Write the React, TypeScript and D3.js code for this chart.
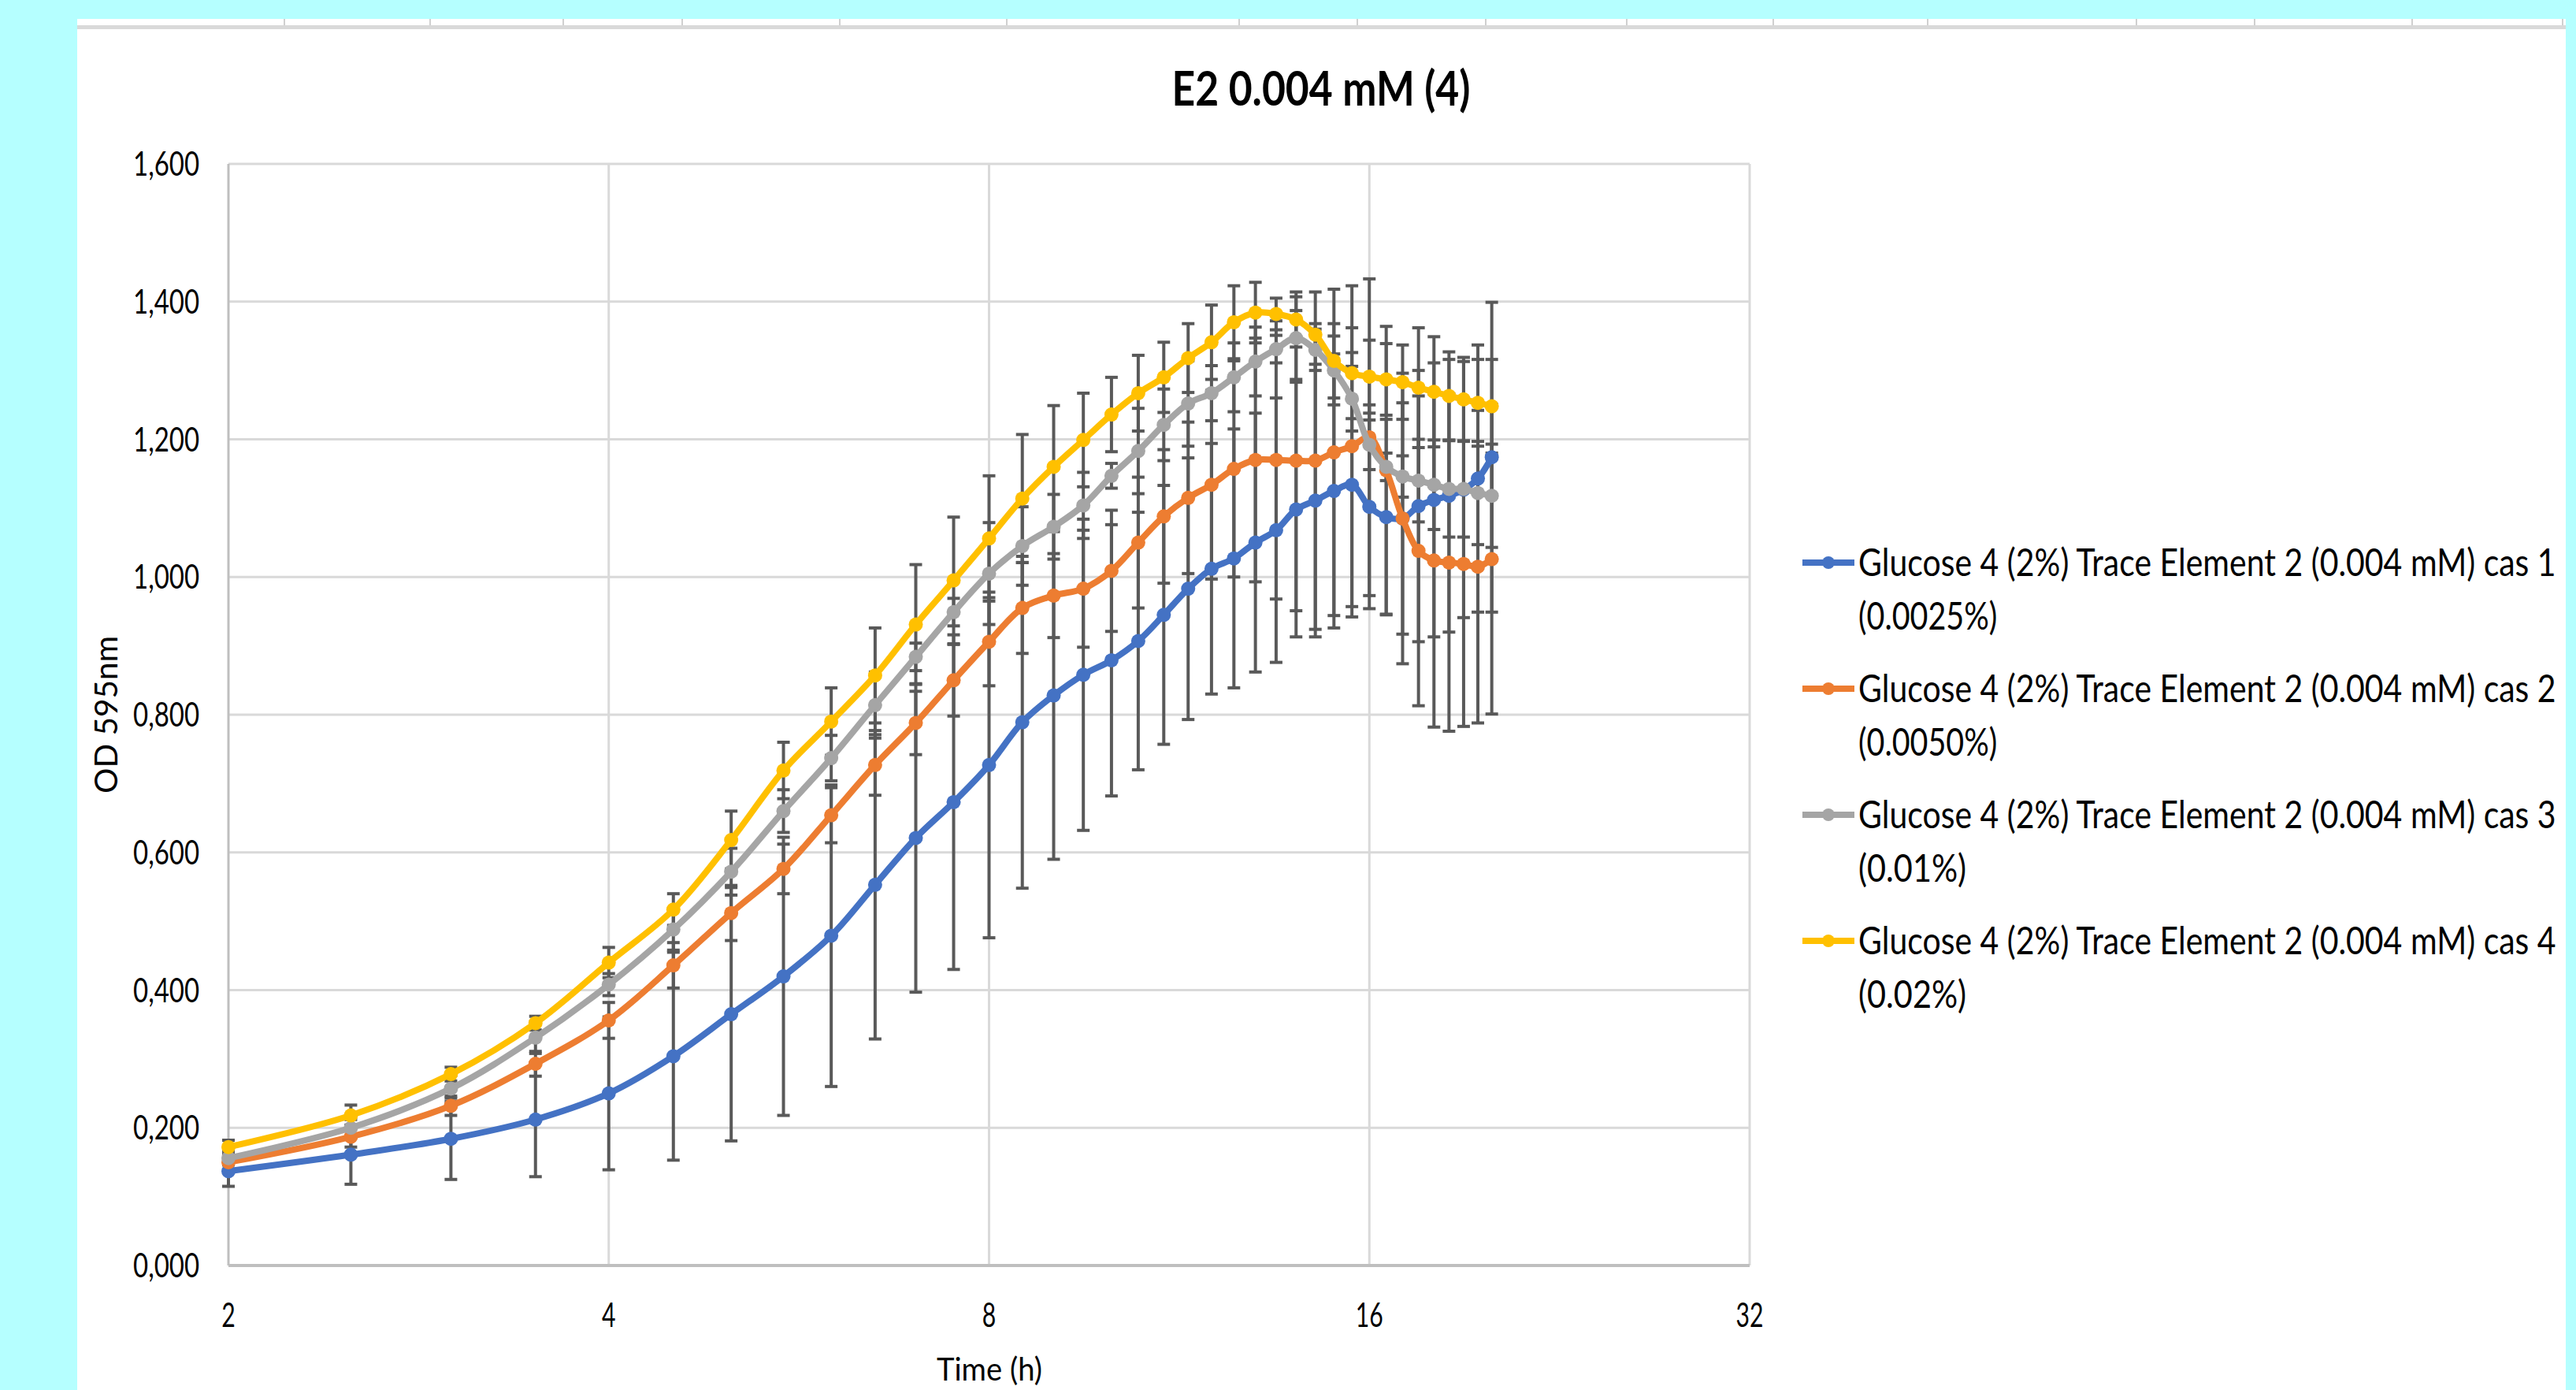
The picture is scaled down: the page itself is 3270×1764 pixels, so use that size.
import React, { useLayoutEffect, useRef, useState } from "react";
import * as d3 from "d3";

// time points (h), every 30 min
const times = [2, 2.5, 3, 3.5, 4, 4.5, 5, 5.5, 6, 6.5, 7, 7.5, 8, 8.5, 9, 9.5, 10, 10.5, 11, 11.5, 12, 12.5, 13, 13.5, 14, 14.5, 15, 15.5, 16, 16.5, 17, 17.5, 18, 18.5, 19, 19.5, 20];

const cas1 = [0.137, 0.161, 0.184, 0.212, 0.250, 0.304, 0.365, 0.420, 0.479, 0.553, 0.621, 0.673, 0.727, 0.789, 0.828, 0.858, 0.879, 0.907, 0.945, 0.983, 1.012, 1.027, 1.050, 1.068, 1.098, 1.111, 1.125, 1.134, 1.102, 1.087, 1.085, 1.103, 1.112, 1.118, 1.127, 1.143, 1.174];
const cas2 = [0.150, 0.187, 0.232, 0.293, 0.356, 0.436, 0.512, 0.576, 0.654, 0.727, 0.788, 0.850, 0.906, 0.955, 0.973, 0.983, 1.009, 1.050, 1.088, 1.115, 1.134, 1.157, 1.170, 1.170, 1.169, 1.169, 1.181, 1.190, 1.203, 1.155, 1.085, 1.038, 1.024, 1.021, 1.019, 1.015, 1.026];
const cas3 = [0.156, 0.200, 0.257, 0.331, 0.408, 0.488, 0.572, 0.660, 0.737, 0.814, 0.884, 0.949, 1.005, 1.045, 1.073, 1.104, 1.147, 1.183, 1.221, 1.252, 1.267, 1.290, 1.313, 1.331, 1.347, 1.330, 1.300, 1.259, 1.192, 1.160, 1.146, 1.140, 1.134, 1.128, 1.128, 1.122, 1.118];
const cas4 = [0.172, 0.218, 0.278, 0.352, 0.440, 0.517, 0.618, 0.719, 0.790, 0.857, 0.931, 0.995, 1.056, 1.114, 1.160, 1.199, 1.236, 1.267, 1.290, 1.318, 1.341, 1.370, 1.384, 1.382, 1.374, 1.352, 1.314, 1.296, 1.291, 1.287, 1.283, 1.275, 1.269, 1.263, 1.258, 1.253, 1.248];

// error bar half-lengths
const cas1Err = [0.022, 0.043, 0.059, 0.083, 0.111, 0.151, 0.184, 0.202, 0.219, 0.224, 0.224, 0.243, 0.251, 0.241, 0.238, 0.226, 0.197, 0.187, 0.188, 0.190, 0.182, 0.188, 0.188, 0.192, 0.185, 0.198, 0.199, 0.192, 0.148, 0.142, 0.168, 0.197, 0.199, 0.198, 0.186, 0.194, 0.225];
const cas2Err = [0.012, 0.015, 0.014, 0.018, 0.026, 0.033, 0.040, 0.036, 0.040, 0.044, 0.046, 0.052, 0.064, 0.066, 0.061, 0.085, 0.088, 0.095, 0.097, 0.110, 0.137, 0.157, 0.177, 0.202, 0.218, 0.245, 0.237, 0.233, 0.230, 0.209, 0.211, 0.225, 0.242, 0.245, 0.236, 0.227, 0.225];
const cas3Err = [0.010, 0.012, 0.019, 0.023, 0.016, 0.030, 0.034, 0.031, 0.033, 0.048, 0.020, 0.020, 0.074, 0.057, 0.047, 0.048, 0.018, 0.062, 0.052, 0.062, 0.040, 0.050, 0.050, 0.020, 0.060, 0.030, 0.050, 0.047, 0.036, 0.020, 0.030, 0.060, 0.065, 0.070, 0.070, 0.075, 0.075];
const cas4Err = [0.010, 0.015, 0.010, 0.010, 0.022, 0.023, 0.042, 0.041, 0.049, 0.069, 0.087, 0.092, 0.091, 0.093, 0.089, 0.068, 0.054, 0.055, 0.051, 0.050, 0.054, 0.053, 0.044, 0.023, 0.040, 0.016, 0.054, 0.066, 0.053, 0.052, 0.054, 0.087, 0.080, 0.064, 0.061, 0.063, 0.068];

const seriesNames = [
  "Glucose 4 (2%) Trace Element 2 (0.004 mM) cas 1",
  "Glucose 4 (2%) Trace Element 2 (0.004 mM) cas 2",
  "Glucose 4 (2%) Trace Element 2 (0.004 mM) cas 3",
  "Glucose 4 (2%) Trace Element 2 (0.004 mM) cas 4",
];
const seriesPct = ["(0.0025%)", "(0.0050%)", "(0.01%)", "(0.02%)"];
const colors = ["#4472C4", "#ED7D31", "#A5A5A5", "#FFC000"];

const xTicks = [2, 4, 8, 16, 32];
const yTicks = [0, 0.2, 0.4, 0.6, 0.8, 1.0, 1.2, 1.4, 1.6];

// spreadsheet column edges peeking above the chart
const sheetCols = [361, 546, 715, 866, 1066, 1278, 1573, 1723, 1886, 2065, 2251, 2447, 2712, 2862, 3062, 3253];

const W = 3270;
const H = 1764;
const FONT = "Lato, 'Liberation Sans', sans-serif";

// text squeezed horizontally to a target width (the screenshot is condensed)
function FitText(props: {
  x: number; y: number; width: number; size: number; anchor?: string;
  bold?: boolean; rotate?: number; children: React.ReactNode;
}) {
  const ref = useRef<SVGTextElement>(null);
  const [sx, setSx] = useState(1);
  useLayoutEffect(() => {
    if (!ref.current) return;
    const w = ref.current.getComputedTextLength();
    if (w > 0) setSx(props.width / w);
  }, [props.width, props.children]);
  const rot = props.rotate ? ` rotate(${props.rotate})` : "";
  return (
    <text
      ref={ref}
      transform={`translate(${props.x},${props.y})${rot} scale(${sx},1)`}
      fontFamily={FONT}
      fontSize={props.size}
      fontWeight={props.bold ? "bold" : "normal"}
      textAnchor={props.anchor || "start"}
      fill="#000"
    >
      {props.children}
    </text>
  );
}

export default function App() {
  const m = { left: 290, right: 2221, top: 208, bottom: 1606 };
  const x = d3.scaleLog().base(2).domain([2, 32]).range([m.left, m.right]);
  const y = d3.scaleLinear().domain([0, 1.6]).range([m.bottom, m.top]);
  const fmt = (v: number) => d3.format(".3f")(v).replace(".", ",");

  const values = [cas1, cas2, cas3, cas4];
  const errs = [cas1Err, cas2Err, cas3Err, cas4Err];

  const line = d3
    .line<number>()
    .x((_, i) => x(times[i]))
    .y((d) => y(d))
    .curve(d3.curveCatmullRom.alpha(0.5));

  const legX = 2288;
  const legY0 = 731;
  const legStep = 160;

  return (
    <svg width={W} height={H} style={{ position: "absolute", left: 0, top: 0, display: "block" }}>
      <rect x={0} y={0} width={W} height={H} fill="#b5ffff" />
      <rect x={98} y={24} width={3159} height={H - 24} fill="#ffffff" />
      <rect x={98} y={32} width={3159} height={5} fill="#d9d9d9" />
      {sheetCols.map((c, i) => (
        <line key={i} x1={c} x2={c} y1={24} y2={32} stroke="#d0d0d0" strokeWidth={2} />
      ))}

      <FitText x={1677} y={134} width={379} size={62} bold anchor="middle">
        E2 0.004 mM (4)
      </FitText>

      {/* grid */}
      {yTicks.filter((v) => v > 0).map((v) => (
        <line key={"gy" + v} x1={m.left} x2={m.right} y1={y(v)} y2={y(v)} stroke="#d9d9d9" strokeWidth={3} />
      ))}
      {xTicks.filter((v) => v > 2).map((v) => (
        <line key={"gx" + v} x1={x(v)} x2={x(v)} y1={m.top} y2={m.bottom} stroke="#d9d9d9" strokeWidth={3} />
      ))}
      <line x1={m.left} x2={m.left} y1={m.top} y2={m.bottom} stroke="#bfbfbf" strokeWidth={3} />
      <line x1={m.left} x2={m.right} y1={m.bottom} y2={m.bottom} stroke="#bfbfbf" strokeWidth={4} />

      {/* tick labels */}
      {yTicks.map((v) => (
        <FitText key={"ty" + v} x={253} y={y(v) + 15} width={84} size={43} anchor="end">
          {fmt(v)}
        </FitText>
      ))}
      {xTicks.map((v) => (
        <FitText key={"tx" + v} x={x(v)} y={1684} width={17.5 * String(v).length} size={43} anchor="middle">
          {String(v)}
        </FitText>
      ))}
      <FitText x={1256} y={1752} width={134} size={40} anchor="middle">
        Time (h)
      </FitText>
      <FitText x={149} y={907} width={200} size={40} anchor="middle" rotate={-90}>
        OD 595nm
      </FitText>

      {/* error bars below all series */}
      {values.map((vals, s) => (
        <g key={"e" + s} stroke="#595959" strokeWidth={4}>
          {vals.map((v, i) => {
            const cx = x(times[i]);
            const lo = y(v - errs[s][i]);
            const hi = y(v + errs[s][i]);
            return (
              <g key={i}>
                <line x1={cx} x2={cx} y1={lo} y2={hi} />
                <line x1={cx - 8} x2={cx + 8} y1={lo} y2={lo} />
                <line x1={cx - 8} x2={cx + 8} y1={hi} y2={hi} />
              </g>
            );
          })}
        </g>
      ))}

      {/* series */}
      {values.map((vals, s) => (
        <g key={"s" + s}>
          <path d={line(vals) || ""} fill="none" stroke={colors[s]} strokeWidth={8} strokeLinejoin="round" />
          {vals.map((v, i) => (
            <circle key={i} cx={x(times[i])} cy={y(v)} r={9} fill={colors[s]} />
          ))}
        </g>
      ))}

      {/* legend */}
      {seriesNames.map((name, s) => {
        const by = legY0 + s * legStep;
        return (
          <g key={"l" + s}>
            <line x1={legX} x2={legX + 66} y1={by - 17} y2={by - 17} stroke={colors[s]} strokeWidth={8} />
            <circle cx={legX + 33} cy={by - 17} r={8} fill={colors[s]} />
            <FitText x={2359} y={by} width={886} size={49}>
              {name}
            </FitText>
            <FitText x={2359} y={by + 68} width={19.6 * seriesPct[s].length} size={49}>
              {seriesPct[s]}
            </FitText>
          </g>
        );
      })}
    </svg>
  );
}
